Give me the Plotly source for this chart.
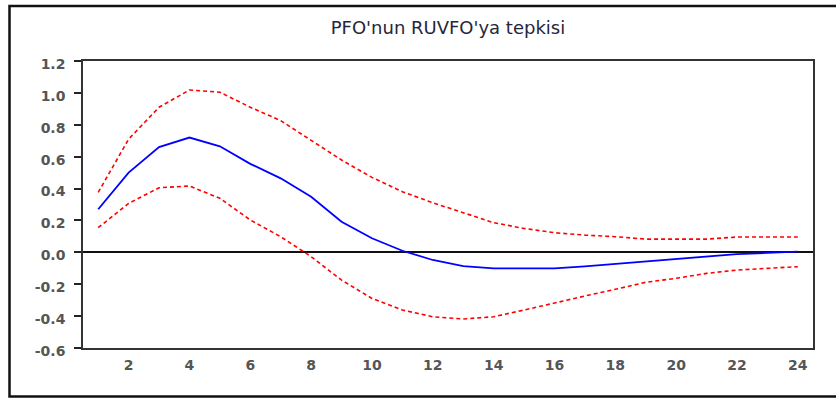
import plotly.graph_objects as go

periods = list(range(1, 25))
response = [0.27, 0.50, 0.66, 0.72, 0.665, 0.555, 0.464, 0.349, 0.192, 0.088, 0.010, -0.048,
            -0.086, -0.100, -0.100, -0.100, -0.088, -0.073, -0.055, -0.040, -0.027, -0.011, -0.004, 0.005]
upper = [0.376, 0.71, 0.91, 1.018, 1.004, 0.91, 0.826, 0.705, 0.579, 0.470, 0.380, 0.311,
         0.248, 0.186, 0.150, 0.123, 0.108, 0.098, 0.083, 0.083, 0.083, 0.096, 0.096, 0.096]
lower = [0.155, 0.307, 0.405, 0.416, 0.339, 0.203, 0.098, -0.027, -0.174, -0.289, -0.362, -0.404,
         -0.418, -0.404, -0.362, -0.316, -0.274, -0.232, -0.188, -0.163, -0.132, -0.111, -0.100, -0.090]
x_labels = [2, 4, 6, 8, 10, 12, 14, 16, 18, 20, 22, 24]
y_ticks = [-0.6, -0.4, -0.2, 0.0, 0.2, 0.4, 0.6, 0.8, 1.0, 1.2]
title_text = "PFO'nun RUVFO'ya tepkisi"

W, H = 836, 398
L, R, T, B = 83, 23, 61, 50
pw, ph = W - L - R, H - T - B

def px_x(px):
    return (px - L) / pw

def px_y(py):
    return (H - B - py) / ph

fig = go.Figure()
fig.add_trace(go.Scatter(x=periods, y=upper, mode="lines",
                         line=dict(color="#ff0000", width=1.6, dash="4px,3px"), showlegend=False))
fig.add_trace(go.Scatter(x=periods, y=lower, mode="lines",
                         line=dict(color="#ff0000", width=1.6, dash="4px,3px"), showlegend=False))
fig.add_trace(go.Scatter(x=periods, y=response, mode="lines",
                         line=dict(color="#0000ff", width=1.8), showlegend=False))

tick_font = dict(family="DejaVu Sans", size=14, color="#555555", weight="bold")
boundaries = [p - 0.5 for p in periods] + [periods[-1] + 0.5]

fig.update_layout(
    width=W, height=H,
    margin=dict(l=L, r=R, t=T, b=B, pad=0),
    paper_bgcolor="white", plot_bgcolor="white",
    title=dict(text=title_text, x=px_x(448), xref="paper", xanchor="center",
               y=1 - 28 / H, yanchor="middle",
               font=dict(family="DejaVu Sans", size=18, color="#26263a")),
    xaxis=dict(range=[0.5, 24.5], tickmode="array", tickvals=x_labels,
               ticktext=[str(v) for v in x_labels], ticks="", tickfont=tick_font,
               ticklabelstandoff=3,
               showgrid=False, zeroline=False, showline=True, mirror=True,
               linecolor="#333333", linewidth=1.5),
    xaxis2=dict(range=[0.5, 24.5], overlaying="x", anchor="y", side="bottom",
                tickmode="array", tickvals=boundaries, showticklabels=False,
                ticks="outside", ticklen=6, tickwidth=1.5, tickcolor="#222222",
                showgrid=False, zeroline=False, showline=False),
    yaxis=dict(range=[-0.6, 1.2], tickmode="array", tickvals=y_ticks,
               ticktext=[f"{v:.1f}" for v in y_ticks], ticks="outside", ticklen=7,
               tickwidth=1.5, tickcolor="#222222", tickfont=tick_font,
               ticklabelshift=3, ticklabelstandoff=6,
               showgrid=False, zeroline=True, zerolinecolor="#111111", zerolinewidth=1.6,
               showline=True, mirror=True, linecolor="#333333", linewidth=1.5),
    shapes=[dict(type="rect", xref="paper", yref="paper",
                 x0=px_x(9.5), x1=px_x(845), y0=px_y(396.5), y1=px_y(6),
                 line=dict(color="#111111", width=2.5), fillcolor="rgba(0,0,0,0)", layer="below")],
)

fig.write_html("out.html")
